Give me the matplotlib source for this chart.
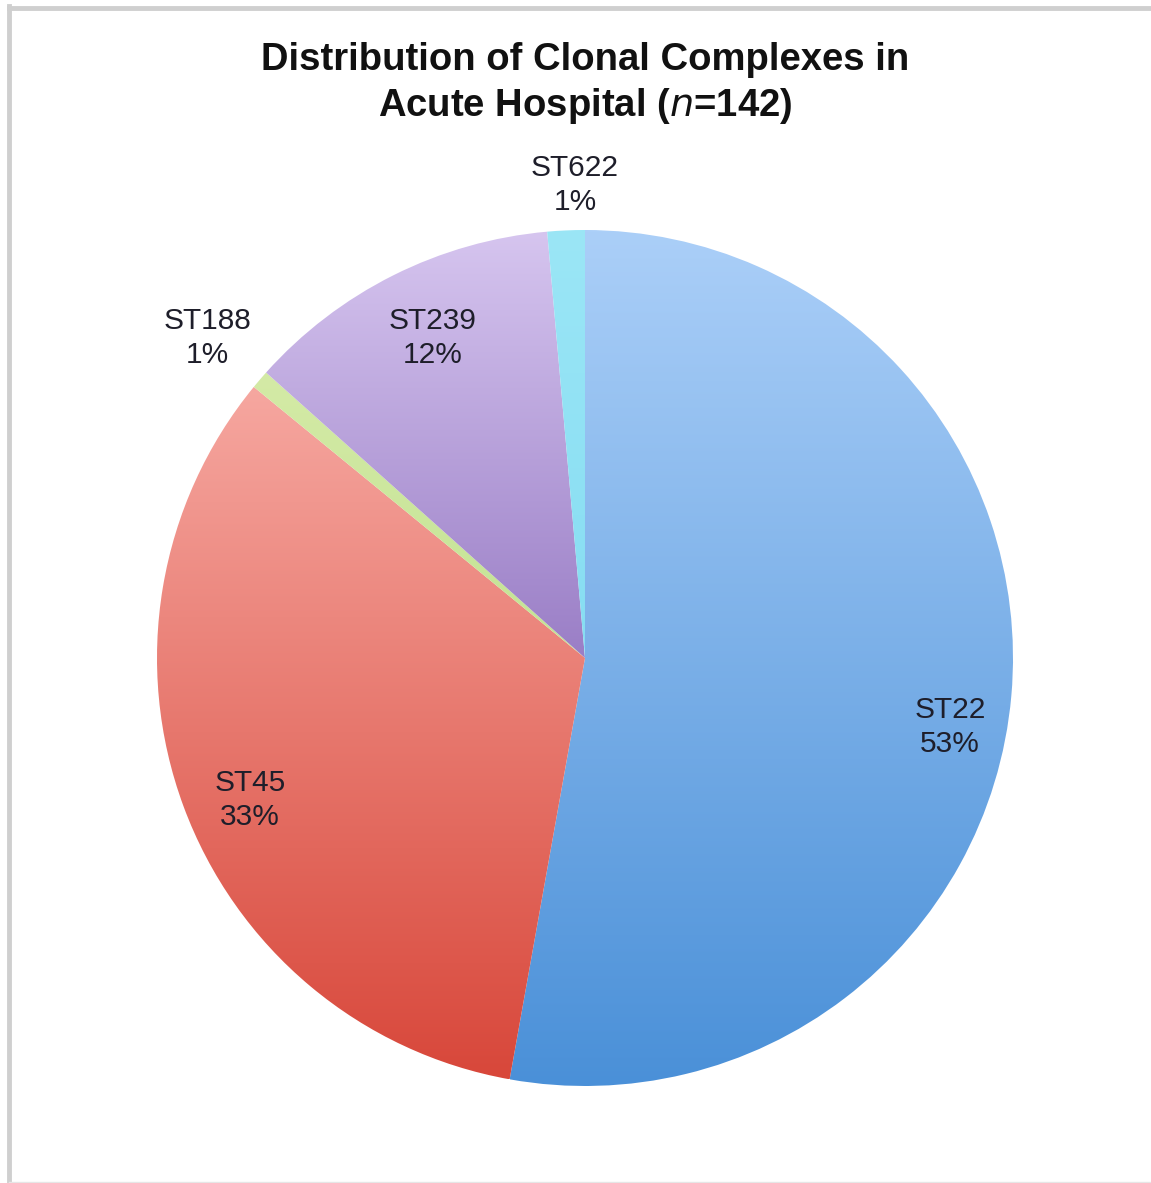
import numpy as np
import matplotlib.pyplot as plt
from matplotlib.colors import to_rgb
from matplotlib.lines import Line2D

# isolates per clonal complex, acute hospital (n=142)
complexes = ['ST22', 'ST45', 'ST188', 'ST239', 'ST622']
counts = [75, 47, 1, 17, 2]

# (top, bottom) gradient colour of each slice
shades = [('#abcff8', '#4a90d8'),
          ('#f6a7a0', '#d8473a'),
          ('#d4eaa6', '#c3e394'),
          ('#d6c5ef', '#9a7ec6'),
          ('#9be6f6', '#86ddf2')]

# label anchors in pixels from the top-left corner
label_xy = [(950, 727), (250, 800), (207, 338), (433, 338), (575, 185)]

W, H = 1151, 1183
fig = plt.figure(figsize=(W / 100, H / 100), dpi=100)
ax = fig.add_axes([0, 0, 1, 1])

wedges, _ = ax.pie(counts, center=(585, H - 658), radius=428, startangle=90,
                   counterclock=False, frame=True,
                   wedgeprops=dict(linewidth=0))

# each slice gets its own top-to-bottom gradient
for w, (top, bot) in zip(wedges, shades):
    box = w.get_path().get_extents()
    c1 = np.array(to_rgb(top))
    c2 = np.array(to_rgb(bot))
    t = np.linspace(0, 1, 256)[:, None]
    grad = (c1 * (1 - t) + c2 * t)[:, None, :]
    w.set_facecolor('none')
    im = ax.imshow(grad, extent=(box.x0, box.x1, box.y0, box.y1),
                   origin='upper', aspect='auto', interpolation='bilinear',
                   zorder=1)
    im.set_clip_path(w)

ax.set_xlim(0, W)
ax.set_ylim(0, H)
ax.set_aspect('equal')
ax.axis('off')

total = sum(counts)
for name, n, (x, y) in zip(complexes, counts, label_xy):
    pct = round(100 * n / total)
    ax.text(x, H - y, f'{name}\n{pct}%', ha='center', va='center',
            fontsize=21.5, family='Liberation Sans', color='#1e1e2a',
            linespacing=1.28, zorder=3)

fig.text(585 / W, 1 - 60 / H, 'Distribution of Clonal Complexes in',
         ha='center', va='center', fontsize=27.5, fontweight='bold',
         family='Liberation Sans', color='#111111')
fig.text(585 / W, 1 - 106 / H, r'Acute Hospital ($\mathit{n}$=142)',
         ha='center', va='center', fontsize=27.5, fontweight='bold',
         family='Liberation Sans', color='#111111')

# thin frame on the top and left edges
fig.add_artist(Line2D([9 / W, 9 / W], [0, 1 - 6 / H], transform=fig.transFigure,
                      color='#cfcfcf', lw=3.5))
fig.add_artist(Line2D([9 / W, 1], [1 - 7.5 / H, 1 - 7.5 / H], transform=fig.transFigure,
                      color='#cfcfcf', lw=3.5))
fig.add_artist(Line2D([9 / W, 1], [1.5 / H, 1.5 / H], transform=fig.transFigure,
                      color='#e6e6e6', lw=1))

fig.savefig('out.png', dpi=100)
